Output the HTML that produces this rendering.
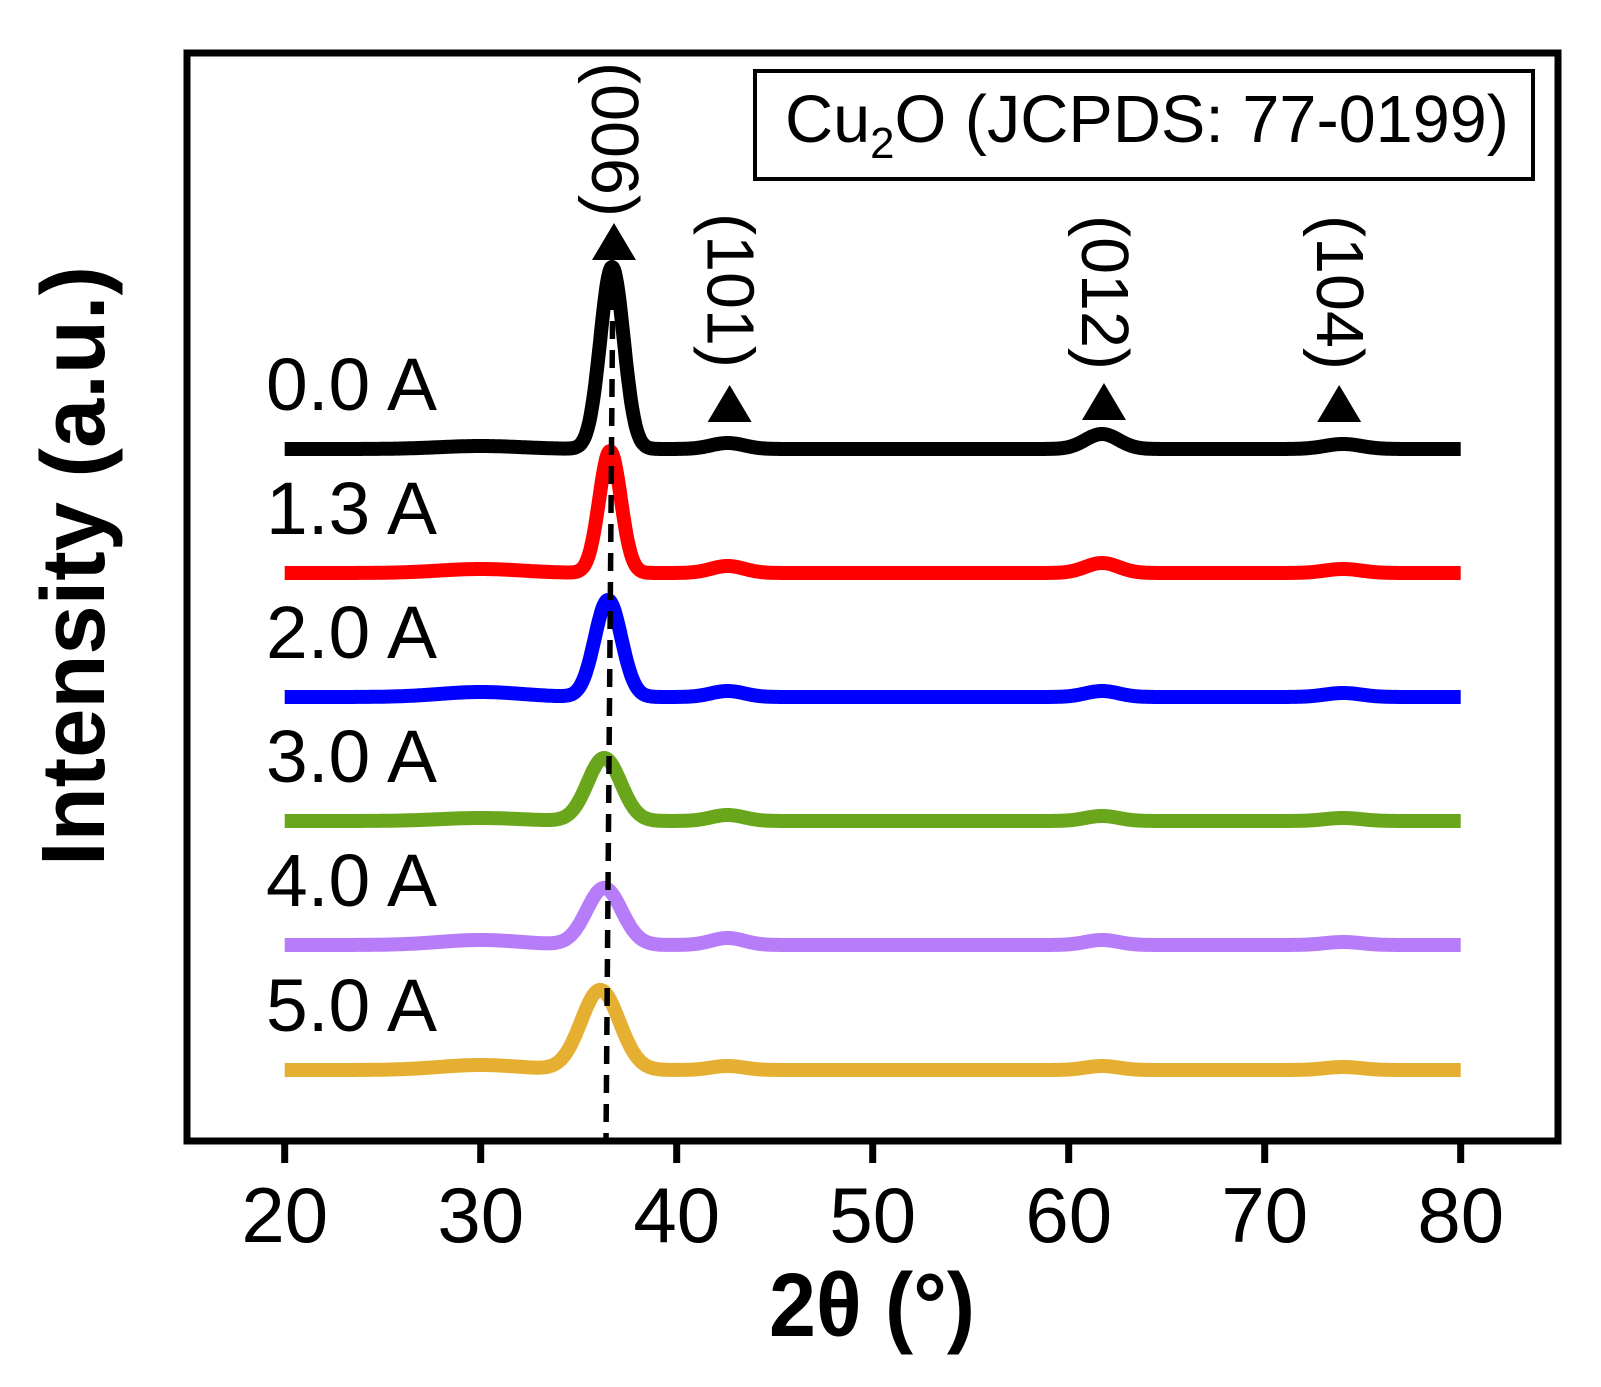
<!DOCTYPE html>
<html><head><meta charset="utf-8"><style>
html,body{margin:0;padding:0;background:#fff;}
svg{display:block;font-family:"Liberation Sans",Arial,sans-serif;}
</style></head><body>
<svg id="chart" width="1601" height="1387" viewBox="0 0 1601 1387" xmlns="http://www.w3.org/2000/svg">
<rect x="0" y="0" width="1601" height="1387" fill="#fff"/>
<g id="traces"></g>
<line id="ref-line" x1="613" y1="263" x2="606" y2="1141" stroke="#000" stroke-width="5.5" stroke-dasharray="18,11"/>
<rect x="187" y="53" width="1371" height="1088" fill="none" stroke="#000" stroke-width="7"/>
<g id="xticks"></g>
<text x="872" y="1336" text-anchor="middle" font-size="90" font-weight="bold" textLength="206" lengthAdjust="spacingAndGlyphs">2θ (°)</text>
<text transform="translate(104,566) rotate(-90)" text-anchor="middle" font-size="90" font-weight="bold" textLength="600" lengthAdjust="spacingAndGlyphs">Intensity (a.u.)</text>
<g>
<rect x="755" y="71" width="778" height="108" fill="#fff" stroke="#000" stroke-width="4"/>
<text x="785" y="142" font-size="67" textLength="724" lengthAdjust="spacingAndGlyphs">Cu<tspan font-size="44" dy="16">2</tspan><tspan dy="-16">O (JCPDS: 77-0199)</tspan></text>
</g>
<g id="labels"></g>
<g id="hkl"></g>
</svg>
<script>
const xTicks = [20, 30, 40, 50, 60, 70, 80];
const seriesNames = ["0.0 A", "1.3 A", "2.0 A", "3.0 A", "4.0 A", "5.0 A"];
const seriesColors = ["#000000", "#ff0000", "#0000ff", "#6aa61c", "#b77cf7", "#e5b032"];
const seriesOffsets = [692, 568, 444, 320, 196, 71];
const mainPeakPos = [36.7, 36.6, 36.5, 36.3, 36.3, 36.1];
const mainPeakHeight = [182, 122, 97, 63, 57, 80];
const mainPeakWidth = [1.4, 1.3, 1.6, 2.0, 2.1, 2.3];
const peak101Height = [6, 7, 6, 6, 7, 4];
const peak012Height = [15, 10, 6, 5, 5, 4];
const peak104Height = [5, 4, 4, 3, 3, 3];
const humpHeight = [3, 4, 5, 3, 5, 5];
const hklLabels = ["(006)", "(101)", "(012)", "(104)"];
const hklPos = [36.8, 42.7, 61.8, 73.8];
const hklTextTop = [62, 213, 215, 215];
const hklTriTop = [223, 385, 383, 385];

const X0 = 284.7, XS = 19.6, Y0 = 1141;
function xs(v){ return X0 + (v - 20) * XS; }
function ys(v){ return Y0 - v; }
const NS = "http://www.w3.org/2000/svg";
function g(v,c,w){ const s = w/2.3548; return Math.exp(-((v-c)*(v-c))/(2*s*s)); }

const tg = document.getElementById('traces');
for (let i = 0; i < seriesNames.length; i++) {
  let d = "";
  for (let t = 20; t <= 80.0001; t += 0.05) {
    const v = seriesOffsets[i] + mainPeakHeight[i]*g(t, mainPeakPos[i], mainPeakWidth[i])
      + peak101Height[i]*g(t, 42.6, 2.0) + peak012Height[i]*g(t, 61.7, 2.0)
      + peak104Height[i]*g(t, 74.0, 2.2) + humpHeight[i]*g(t, 30, 5);
    d += (d ? "L" : "M") + xs(t).toFixed(1) + "," + ys(v).toFixed(1);
  }
  const p = document.createElementNS(NS, "path");
  
  
  p.setAttribute("d", d);
  p.setAttribute("fill", "none");
  p.setAttribute("stroke", seriesColors[i]);
  p.setAttribute("stroke-width", "14");
  p.setAttribute("stroke-linejoin", "round");
  tg.appendChild(p);

  const lb = document.createElementNS(NS, "text");
  
  
  lb.setAttribute("x", 266);
  lb.setAttribute("y", ys(seriesOffsets[i]) - 39);
  lb.setAttribute("font-size", "74");
  lb.setAttribute("textLength", "171");
  lb.setAttribute("lengthAdjust", "spacingAndGlyphs");
  lb.textContent = seriesNames[i];
  document.getElementById('labels').appendChild(lb);
}

const xg = document.getElementById('xticks');
for (const t of xTicks) {
  const l = document.createElementNS(NS, "line");
  
  
  l.setAttribute("x1", xs(t)); l.setAttribute("x2", xs(t));
  l.setAttribute("y1", 1141); l.setAttribute("y2", 1163);
  l.setAttribute("stroke", "#000"); l.setAttribute("stroke-width", "7");
  xg.appendChild(l);
  const tx = document.createElementNS(NS, "text");
  
  
  tx.setAttribute("x", xs(t)); tx.setAttribute("y", 1242);
  tx.setAttribute("text-anchor", "middle");
  tx.setAttribute("font-size", "78");
  tx.textContent = t;
  xg.appendChild(tx);
}

const hg = document.getElementById('hkl');
for (let i = 0; i < hklLabels.length; i++) {
  const cx = xs(hklPos[i]);
  const tri = document.createElementNS(NS, "polygon");
  
  
  const top = hklTriTop[i];
  tri.setAttribute("points", `${cx},${top} ${cx-22},${top+37} ${cx+22},${top+37}`);
  tri.setAttribute("fill", "#000");
  hg.appendChild(tri);
  const tx = document.createElementNS(NS, "text");
  
  
  tx.setAttribute("transform", `translate(${cx-22},${hklTextTop[i]}) rotate(90)`);
  tx.setAttribute("font-size", "67");
  tx.setAttribute("textLength", "155");
  tx.setAttribute("lengthAdjust", "spacingAndGlyphs");
  tx.textContent = hklLabels[i];
  hg.appendChild(tx);
}
</script>
</body></html>
